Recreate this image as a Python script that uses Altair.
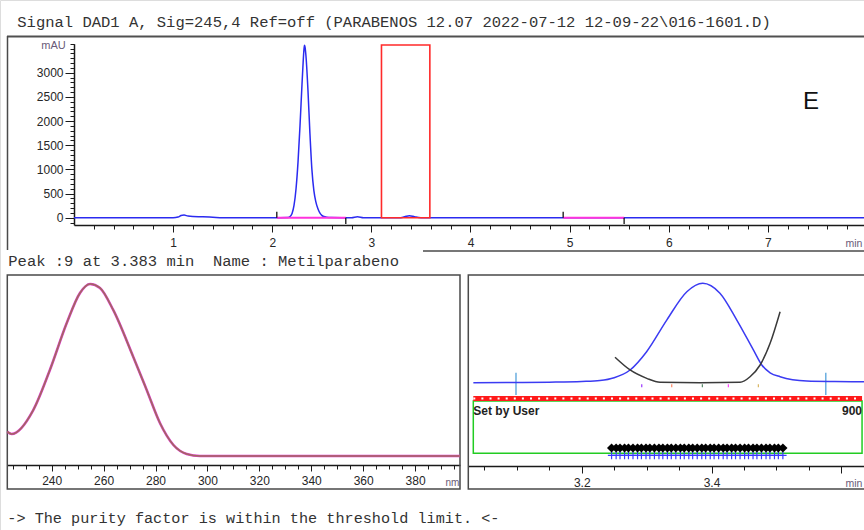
import altair as alt
import pandas as pd

W, H = 864, 530
SANS = "Liberation Sans"
MONO = "Liberation Mono"
NB = "\u00a0"

# ---------------- texts ----------------
title_line = ["Signal DAD1 A, Sig=245,4 Ref=off (PARABENOS 12.07 2022-07-12 12-09-22\\016-1601.D)"]
peak_line = ["Peak :9 at 3.383 min " + NB + "Name : Metilparabeno"]
verdict_line = ["-> The purity factor is within the threshold limit. <-"]
panel_tag = ["E"]

# ---------------- chromatogram (min, mAU) ----------------
chrom_t = [0.00, 0.50, 1.00, 1.05, 1.08, 1.11, 1.15, 1.20, 1.30, 1.40, 1.50, 2.00,
           2.16, 2.18, 2.20, 2.22, 2.24, 2.26, 2.28, 2.30, 2.31, 2.32, 2.325, 2.33, 2.34,
           2.36, 2.38, 2.40, 2.42, 2.44, 2.46, 2.48, 2.50, 2.52, 2.55, 2.60, 2.70, 2.80,
           2.86, 2.92, 3.00, 3.28, 3.32, 3.35, 3.383, 3.42, 3.45, 3.50, 4.00, 5.00, 6.00,
           7.00, 7.97]
chrom_mau = [0, 0, 0, 15, 45, 55, 35, 25, 20, 10, 0, 0,
             5, 25, 90, 260, 600, 1150, 1900, 2750, 3150, 3480, 3570, 3540, 3350,
             2650, 1750, 1000, 560, 330, 190, 100, 50, 25, 10, 3, 0, 0,
             20, 0, 0, 0, 12, 30, 42, 30, 14, 0, 0, 0, 0,
             0, 0]
blank_start = [2.046, 4.935]
blank_end = [2.742, 5.550]
blank_level = [0, 0]
event_t = [2.046, 2.742, 4.935, 5.550]
event_lo = [0, -130, 0, -130]
event_hi = [125, 0, 125, 0]
win_t0, win_t1, win_lo, win_hi = [3.102], [3.590], [0], [3573]
chrom_major = [1, 2, 3, 4, 5, 6, 7]
chrom_minor = [round(0.2 * i, 1) for i in range(1, 40) if i % 5]
mau_major = [0, 500, 1000, 1500, 2000, 2500, 3000]
mau_minor = list(range(-100, 3700, 100))

# ---------------- UV spectrum (nm, relative absorbance %) ----------------
spec_nm = [222.9, 224.6, 232.9, 239.3, 245.8, 250.9, 254.8, 258.6, 263.7, 271.4,
           276.6, 281.7, 286.9, 292.0, 297.1, 397.3]
spec_abs = [14.1, 12.8, 26.7, 50.0, 77.3, 94.8, 100.0, 97.7, 84.9, 57.7,
            38.4, 19.2, 6.4, 1.2, 0.0, 0.0]
nm_major = [240, 260, 280, 300, 320, 340, 360, 380]
nm_minor = list(range(225, 400, 5))

# ---------------- peak purity (min, relative units) ----------------
pur_t = [3.033, 3.100, 3.150, 3.200, 3.228, 3.250, 3.2745, 3.300, 3.331, 3.362,
         3.3865, 3.413, 3.439, 3.4645, 3.4775, 3.4903, 3.5057, 3.5468, 3.590, 3.635]
pur_v = [0, 0.2, 0.5, 1.2, 2.2, 5.0, 12.8, 31.2, 63, 91.5,
         100, 90, 63, 33, 17.8, 10, 6, 1.7, 1.2, 1]
sim_t = [3.2513, 3.2745, 3.3002, 3.3207, 3.3825, 3.444, 3.4594, 3.4749, 3.4903, 3.5057]
sim_v = [25.6, 12.8, 4.4, 0.4, 0, 0.4, 6.0, 17.8, 39.6, 71.4]
lim_t = [3.0987, 3.5761]
lim_lo = [-12.4, -12.4]
lim_hi = [10.1, 10.1]
spot_t = [3.2925, 3.3387, 3.3859, 3.426, 3.4722]
spot_id = ["s1", "s2", "s3", "s4", "s5"]
spot_colors = ["#9933ff", "#ff8866", "#558866", "#ff44ff", "#d9b560"]
spot_lo = [-4.6] * 5
spot_hi = [-1.6] * 5
scan_t = [3.246, 3.253, 3.259, 3.266, 3.272, 3.279, 3.286, 3.292, 3.299, 3.305,
          3.312, 3.319, 3.325, 3.332, 3.338, 3.345, 3.352, 3.358, 3.365, 3.371,
          3.378, 3.385, 3.391, 3.398, 3.404, 3.411, 3.418, 3.424, 3.431, 3.437,
          3.444, 3.451, 3.457, 3.464, 3.470, 3.477, 3.484, 3.490, 3.497, 3.503, 3.510]
thr_t0, thr_t1 = [3.0329], [3.632]
thr_bar_lo, thr_bar_hi, thr_bar_mid = [-18.4], [-13.4], [-15.9]
box_lo, box_hi = [-71.0], [-18.4]
sim_level, scan_level = -65.7, -73.2
thr_labels = ["Set by User", "900"]
thr_label_t = [3.0329, 3.632]
thr_label_v = [-28.2, -28.2]
pur_major = [3.2, 3.4, 3.6]
pur_minor = [3.05, 3.10, 3.15, 3.25, 3.30, 3.35, 3.45, 3.50, 3.55]

# ---------------- common axis style ----------------
ax_style = dict(grid=False, labelFlush=False, labelOverlap=False, tickColor="#1a1a1a",
                domainColor="#1a1a1a", labelFont=SANS, labelColor="#262626",
                titleFont=SANS, titleFontWeight="normal", titleColor="#6a5a78")
minor_style = dict(grid=False, labels=False, domain=False, tickColor="#1a1a1a", title=None)

# ================= top chromatogram =================
xs_top = alt.Scale(domain=[0, 7.97], range=[74, 864], nice=False, zero=False)
ys_top = alt.Scale(domain=[-150, 3600], range=[225.0, 43.7], nice=False, zero=False)

ax_top_x = alt.Axis(orient="bottom", offset=225 - H, values=chrom_major, format="d",
                    tickSize=7, domainWidth=1.5, labelFontSize=12, labelPadding=5,
                    title="min", titleX=845, titleY=18, titleAlign="left",
                    titleBaseline="middle", titleFontSize=10.5, **ax_style)
ax_top_x_minor = alt.Axis(orient="bottom", offset=225 - H, values=chrom_minor, tickSize=4,
                          **minor_style)
ax_top_y = alt.Axis(orient="left", offset=-74, values=mau_major, format="d", tickSize=9,
                    domainWidth=1.5, labelFontSize=12, labelPadding=2,
                    title="mAU", titleAngle=0, titleX=-21, titleY=45, titleAlign="center",
                    titleBaseline="middle", titleFontSize=11, **ax_style)
ax_top_y_minor = alt.Axis(orient="left", offset=-74, values=mau_minor, tickSize=4,
                          **minor_style)

chrom_df = pd.DataFrame({"t": chrom_t, "mau": chrom_mau})
blank_df = pd.DataFrame({"t0": blank_start, "t1": blank_end, "lvl": blank_level})
event_df = pd.DataFrame({"t": event_t, "lo": event_lo, "hi": event_hi})
win_df = pd.DataFrame({"t0": win_t0, "t1": win_t1, "lo": win_lo, "hi": win_hi})

chrom_line = alt.Chart(chrom_df).mark_line(color="#2b2bf0", strokeWidth=1.5,
                                           interpolate="monotone").encode(
    x=alt.X("t:Q", scale=xs_top, axis=ax_top_x),
    y=alt.Y("mau:Q", scale=ys_top, axis=ax_top_y))
blank_rule = alt.Chart(blank_df).mark_rule(color="#ff33dd", strokeWidth=2).encode(
    x=alt.X("t0:Q", scale=xs_top, axis=ax_top_x_minor), x2="t1:Q",
    y=alt.Y("lvl:Q", scale=ys_top, axis=ax_top_y_minor))
event_rule = alt.Chart(event_df).mark_rule(color="#111111", strokeWidth=1.3).encode(
    x=alt.X("t:Q", scale=xs_top, axis=None),
    y=alt.Y("lo:Q", scale=ys_top, axis=None), y2="hi:Q")
win_rect = alt.Chart(win_df).mark_rect(filled=False, stroke="#ff2a2a", strokeWidth=1.6).encode(
    x=alt.X("t0:Q", scale=xs_top, axis=None), x2="t1:Q",
    y=alt.Y("lo:Q", scale=ys_top, axis=None), y2="hi:Q")

top = alt.layer(chrom_line, blank_rule, event_rule, win_rect).resolve_axis(
    x="independent", y="independent")

# ================= spectrum =================
xs_spec = alt.Scale(domain=[222.9, 397.3], range=[7.3, 460], nice=False, zero=False)
ys_spec = alt.Scale(domain=[0, 100], range=[456, 284], nice=False, zero=False)
ax_spec_x = alt.Axis(orient="bottom", offset=465 - H, values=nm_major, format="d",
                     tickSize=6, domainWidth=1.5, labelFontSize=12, labelPadding=4,
                     title="nm", titleX=445, titleY=17, titleAlign="left",
                     titleBaseline="middle", titleFontSize=10, **ax_style)
ax_spec_x_minor = alt.Axis(orient="bottom", offset=465 - H, values=nm_minor, tickSize=4,
                           **minor_style)
spec_df = pd.DataFrame({"nm": spec_nm, "a": spec_abs})
spec_under = alt.Chart(spec_df).mark_line(color="#e03ad0", strokeWidth=2.6,
                                          interpolate="monotone").encode(
    x=alt.X("nm:Q", scale=xs_spec, axis=ax_spec_x_minor),
    y=alt.Y("a:Q", scale=ys_spec, axis=None))
spec_over = alt.Chart(spec_df).mark_line(color="#a26a5e", strokeWidth=1.6,
                                         interpolate="monotone").encode(
    x=alt.X("nm:Q", scale=xs_spec, axis=ax_spec_x),
    y=alt.Y("a:Q", scale=ys_spec, axis=None))
spec = alt.layer(spec_under, spec_over).resolve_axis(x="independent")

# ================= purity =================
xs_pur = alt.Scale(domain=[3.0252, 3.635], range=[468.3, 864], nice=False, zero=False)
ys_pur = alt.Scale(domain=[-100, 100], range=[482.1, 283.3], nice=False, zero=False)
ax_pur_x = alt.Axis(orient="bottom", offset=466 - H, values=pur_major, format=".1f",
                    labelExpr="datum.value > 3.5 ? '' : datum.label",
                    tickSize=7, domainWidth=1.5, labelFontSize=12, labelPadding=4,
                    title="min", titleX=845, titleY=17, titleAlign="left",
                    titleBaseline="middle", titleFontSize=10.5, **ax_style)
ax_pur_x_minor = alt.Axis(orient="bottom", offset=466 - H, values=pur_minor, tickSize=4,
                          **minor_style)

thr_df = pd.DataFrame({"t0": thr_t0, "t1": thr_t1, "lo": thr_bar_lo, "hi": thr_bar_hi,
                       "mid": thr_bar_mid, "blo": box_lo, "bhi": box_hi})
pur_df = pd.DataFrame({"t": pur_t, "v": pur_v})
sim_df = pd.DataFrame({"t": sim_t, "v": sim_v})
lim_df = pd.DataFrame({"t": lim_t, "lo": lim_lo, "hi": lim_hi})
spot_df = pd.DataFrame({"t": spot_t, "id": spot_id, "lo": spot_lo, "hi": spot_hi})
scan_df = pd.DataFrame({"t": scan_t})
lab_df = pd.DataFrame({"t": thr_label_t, "v": thr_label_v, "txt": thr_labels})


def X(f, ax=None):
    return alt.X(f, scale=xs_pur, axis=ax)


def Y(f):
    return alt.Y(f, scale=ys_pur, axis=None)


green_box = alt.Chart(thr_df).mark_rect(filled=False, stroke="#22cc22", strokeWidth=1.5).encode(
    x=X("t0:Q"), x2="t1:Q", y=Y("blo:Q"), y2="bhi:Q")
red_bar = alt.Chart(thr_df).mark_rect(color="#ff1a1a").encode(
    x=X("t0:Q"), x2="t1:Q", y=Y("lo:Q"), y2="hi:Q")
red_dots = alt.Chart(thr_df).mark_rule(color="white", strokeWidth=2,
                                       strokeDash=[2, 6.1]).encode(
    x=X("t0:Q"), x2="t1:Q", y=Y("mid:Q"))
pur_line = alt.Chart(pur_df).mark_line(color="#3b3bf2", strokeWidth=1.5,
                                       interpolate="monotone").encode(
    x=X("t:Q", ax_pur_x), y=Y("v:Q"))
sim_line = alt.Chart(sim_df).mark_line(color="#3a3a3a", strokeWidth=1.5,
                                       interpolate="monotone").encode(
    x=X("t:Q", ax_pur_x_minor), y=Y("v:Q"))
lim_rule = alt.Chart(lim_df).mark_rule(color="#6aaee0", strokeWidth=1.5).encode(
    x=X("t:Q"), y=Y("lo:Q"), y2="hi:Q")
spot_rule = alt.Chart(spot_df).mark_rule(strokeWidth=1.2).encode(
    x=X("t:Q"), y=Y("lo:Q"), y2="hi:Q",
    color=alt.Color("id:N", scale=alt.Scale(domain=spot_id, range=spot_colors), legend=None))
scan_black = alt.Chart(scan_df).mark_point(shape="diamond", filled=True, color="black",
                                           size=85, opacity=1).encode(
    x=X("t:Q"), y=alt.Y(datum=sim_level, scale=ys_pur, axis=None))
scan_blue = alt.Chart(scan_df).mark_point(shape="M-1,0L1,0M0,-1L0,1", filled=False,
                                          color="#3a3aff", size=55, strokeWidth=1.2,
                                          opacity=1).encode(
    x=X("t:Q"), y=alt.Y(datum=scan_level, scale=ys_pur, axis=None))
lab_left = alt.Chart(lab_df.iloc[[0]]).mark_text(align="left", baseline="middle", font=SANS,
                                                 fontSize=12, fontWeight="bold",
                                                 color="#222222").encode(
    x=X("t:Q"), y=Y("v:Q"), text="txt:N")
lab_right = alt.Chart(lab_df.iloc[[1]]).mark_text(align="right", baseline="middle", font=SANS,
                                                  fontSize=12, fontWeight="bold",
                                                  color="#222222").encode(
    x=X("t:Q"), y=Y("v:Q"), text="txt:N")

pur = alt.layer(green_box, red_bar, red_dots, lim_rule, spot_rule, pur_line, sim_line,
                scan_blue, scan_black, lab_left, lab_right).resolve_axis(x="independent")

# ================= frames and free texts =================
one = pd.DataFrame({"k": [0]})
frame_color = "#4a4a4a"
f1 = alt.Chart(one).mark_rule(color="#505050", strokeWidth=2.2).encode(
    x=alt.value(7), x2=alt.value(864), y=alt.value(36.5))
f2 = alt.Chart(one).mark_rule(color=frame_color, strokeWidth=1.5).encode(
    x=alt.value(7.5), y=alt.value(36), y2=alt.value(250))
f3 = alt.Chart(one).mark_rule(color=frame_color, strokeWidth=1.5).encode(
    x=alt.value(423), x2=alt.value(864), y=alt.value(251))
f4 = alt.Chart(one).mark_rect(filled=False, stroke=frame_color, strokeWidth=1.5).encode(
    x=alt.value(7.3), x2=alt.value(460), y=alt.value(275), y2=alt.value(489))
f5 = alt.Chart(one).mark_rect(filled=False, stroke=frame_color, strokeWidth=1.5).encode(
    x=alt.value(468.3), x2=alt.value(868), y=alt.value(275), y2=alt.value(489))


def mono_text(lines, x, y, size):
    return alt.Chart(pd.DataFrame({"txt": lines})).mark_text(
        align="left", baseline="alphabetic", font=MONO, fontSize=size, color="#333333").encode(
        x=alt.value(x), y=alt.value(y), text="txt:N")


t_title = mono_text(title_line, 17.3, 26.5, 15.5)
t_peak = mono_text(peak_line, 8.3, 265.5, 15.5)
t_verdict = mono_text(verdict_line, 7.3, 522.5, 15.2)
t_tag = alt.Chart(pd.DataFrame({"txt": panel_tag})).mark_text(
    align="center", baseline="alphabetic", font=SANS, fontSize=24, color="#111111").encode(
    x=alt.value(811), y=alt.value(109), text="txt:N")

chart = alt.layer(
    f1, f2, f3, f4, f5, top, spec, pur, t_title, t_peak, t_verdict, t_tag
).resolve_scale(x="independent", y="independent").properties(
    width=W, height=H, padding=0, autosize=alt.AutoSizeParams(type="none")
).configure_view(stroke="transparent").configure(background="white")

chart.save("out.html", embed_options={"renderer": "svg", "actions": False})
